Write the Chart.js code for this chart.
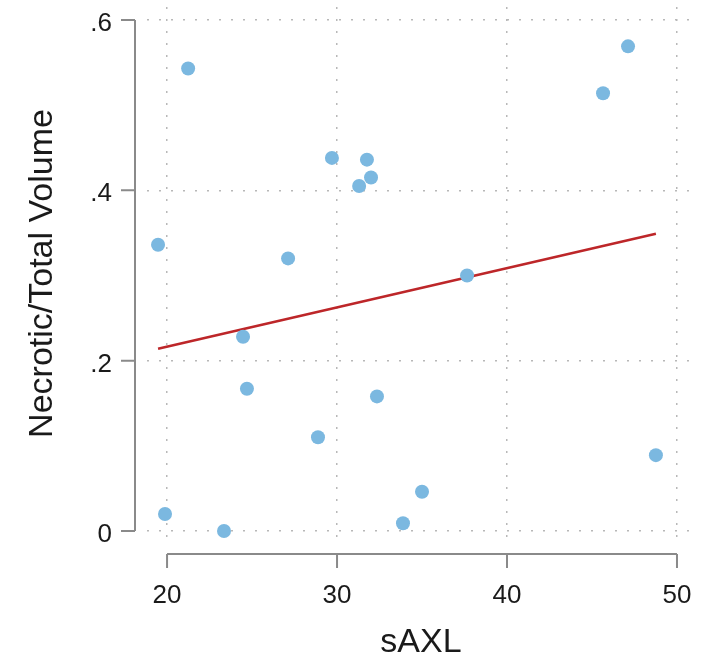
<!DOCTYPE html>
<html>
<head>
<meta charset="utf-8">
<script src="https://cdn.jsdelivr.net/npm/chart.js@4"></script>
<style>
  body { margin: 0; background: #fff; }
  #wrap { width: 715px; height: 671px; position: relative; }
</style>
</head>
<body>
<div id="wrap"><canvas id="scatter"></canvas></div>
<script>
// values
const saxl     = [19.47, 19.88, 21.24, 23.35, 24.47, 24.70, 27.12, 28.88, 29.70, 31.30, 31.76, 32.00, 32.35, 33.88, 35.00, 37.65, 45.65, 47.12, 48.76];
const necrotic = [0.336, 0.020, 0.543, 0.000, 0.228, 0.167, 0.320, 0.110, 0.438, 0.405, 0.436, 0.415, 0.158, 0.009, 0.046, 0.300, 0.514, 0.569, 0.089];
const fitX = [19.47, 48.76];
const fitY = [0.214, 0.349];
const xTicks = [20, 30, 40, 50];
const yTicks = [0, 0.2, 0.4, 0.6];
const yTickLabels = ['0', '.2', '.4', '.6'];

const FONT = '"Liberation Sans", Arial, Helvetica, sans-serif';
const TXT = '#1a1a1a';
const AXIS = '#8a8a8a';

// Stata-style detached axis lines with outward ticks
const spines = {
  id: 'spines',
  afterDraw(c) {
    const ctx = c.ctx, xs = c.scales.x, ys = c.scales.y, area = c.chartArea;
    const lx = area.left - 12, by = area.bottom + 14, tl = 14;
    ctx.save();
    ctx.strokeStyle = AXIS;
    ctx.lineWidth = 2;
    ctx.beginPath();
    ctx.moveTo(lx, ys.getPixelForValue(yTicks[yTicks.length - 1]));
    ctx.lineTo(lx, ys.getPixelForValue(yTicks[0]));
    yTicks.forEach(v => {
      const p = ys.getPixelForValue(v);
      ctx.moveTo(lx - tl, p);
      ctx.lineTo(lx, p);
    });
    ctx.moveTo(xs.getPixelForValue(xTicks[0]), by);
    ctx.lineTo(xs.getPixelForValue(xTicks[xTicks.length - 1]), by);
    xTicks.forEach(v => {
      const p = xs.getPixelForValue(v);
      ctx.moveTo(p, by);
      ctx.lineTo(p, by + tl);
    });
    ctx.stroke();
    ctx.restore();
  }
};

// keep chart area fixed: no extra label overflow padding
function noPad(s) {
  s.paddingLeft = s.paddingRight = s.paddingTop = s.paddingBottom = 0;
}

new Chart(document.getElementById('scatter'), {
  type: 'scatter',
  data: {
    datasets: [
      {
        data: saxl.map((x, i) => ({ x: x, y: necrotic[i] })),
        backgroundColor: '#7bb8e0',
        borderWidth: 0,
        pointRadius: 7,
        pointHoverRadius: 7,
        order: 0
      },
      {
        type: 'line',
        data: fitX.map((x, i) => ({ x: x, y: fitY[i] })),
        borderColor: '#bd2629',
        borderWidth: 2.5,
        pointRadius: 0,
        fill: false,
        order: 1
      }
    ]
  },
  options: {
    responsive: true,
    maintainAspectRatio: false,
    animation: false,
    layout: { padding: { top: 7, right: 20, left: 0, bottom: 0 } },
    plugins: { legend: { display: false }, tooltip: { enabled: false } },
    scales: {
      x: {
        type: 'linear',
        min: 18.82,
        max: 51.06,
        afterBuildTicks: s => { s.ticks = xTicks.map(v => ({ value: v })); },
        afterFit: s => { s.height = 131; noPad(s); },
        grid: { color: '#b8b8b8', lineWidth: 1.5, drawTicks: false },
        border: { display: false, dash: [2, 10] },
        ticks: { color: TXT, font: { family: FONT, size: 26 }, padding: 40, maxRotation: 0 },
        title: { display: true, text: 'sAXL', color: TXT, font: { family: FONT, size: 34 }, padding: { top: 0, bottom: 8 } }
      },
      y: {
        type: 'linear',
        min: -0.0106,
        max: 0.6152,
        afterBuildTicks: s => { s.ticks = yTicks.map(v => ({ value: v })); },
        afterFit: s => { s.width = 147; noPad(s); },
        grid: { color: '#b8b8b8', lineWidth: 1.5, drawTicks: false },
        border: { display: false, dash: [2, 10] },
        ticks: {
          color: TXT, font: { family: FONT, size: 26 }, padding: 35, labelOffset: 4,
          callback: v => yTickLabels[yTicks.indexOf(v)] ?? ''
        },
        title: { display: true, text: 'Necrotic/Total Volume', color: TXT, font: { family: FONT, size: 34 }, padding: { top: 22, bottom: 0 } }
      }
    }
  },
  plugins: [spines]
});
</script>
</body>
</html>
